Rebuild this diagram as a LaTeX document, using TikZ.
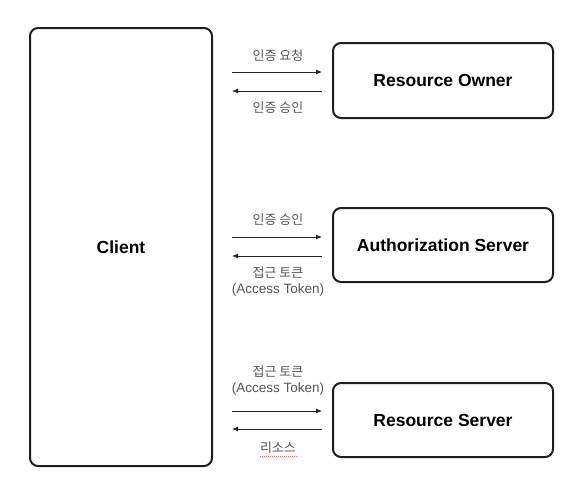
\documentclass[tikz,border=0pt]{standalone}
\usepackage{fontspec}
\setmainfont{Liberation Sans}
\newfontfamily\krfont{Noto Sans CJK KR}
\usetikzlibrary{arrows.meta,positioning}
\definecolor{labgray}{RGB}{85,85,85}
\definecolor{boxline}{RGB}{30,30,30}
\definecolor{spellred}{RGB}{235,110,110}
\tikzset{
  party/.style={draw=boxline, line width=2pt, rounded corners=8pt,
                fill=white, align=center, font=\fontsize{17.5}{21}\selectfont\bfseries},
  flow/.style={-{Latex[length=6pt,width=5pt]}, line width=0.8pt, black!85},
  msg/.style={font=\fontsize{13.5}{16}\selectfont, text=labgray, align=center, inner sep=0pt},
  krmsg/.style={msg, font=\krfont\fontsize{13}{16}\selectfont},
}
\begin{document}
\begin{tikzpicture}[x=1pt,y=-1pt]
  \path[use as bounding box] (0,0) rectangle (580,490);

  \node[party, minimum width=182pt, minimum height=438pt] (client) at (121,247) {Client};

  \node[party, minimum width=220pt, minimum height=75pt] (owner) at (443,80.5) {Resource Owner};
  \node[party, minimum width=220pt, minimum height=74pt] (authsrv) at (443,245) {Authorization Server};
  \node[party, minimum width=220pt, minimum height=74pt] (ressrv) at (443,420) {Resource Server};

  % client <-> resource owner
  \draw[flow, shorten <=19pt, shorten >=10pt]
    ([yshift=8.5pt]client.east |- owner.west) -- ([yshift=8.5pt]owner.west);
  \draw[flow, shorten <=10pt, shorten >=19pt]
    ([yshift=-10.5pt]owner.west) -- ([yshift=-10.5pt]client.east |- owner.west);
  \node[krmsg] (reqlab) at (278,56) {인증 요청};
  \node[krmsg] (grantlab) at (278,108) {인증 승인};

  % client <-> authorization server
  \draw[flow, shorten <=19pt, shorten >=10pt]
    ([yshift=8pt]client.east |- authsrv.west) -- ([yshift=8pt]authsrv.west);
  \draw[flow, shorten <=10pt, shorten >=19pt]
    ([yshift=-11pt]authsrv.west) -- ([yshift=-11pt]client.east |- authsrv.west);
  \node[krmsg] (grantlab2) at (278,220) {인증 승인};
  \node[krmsg] (toklab) at (278,273) {접근 토큰};
  \node[msg] (toklaben) at (278,289.5) {(Access Token)};

  % client <-> resource server
  \draw[flow, shorten <=19pt, shorten >=10pt]
    ([yshift=9pt]client.east |- ressrv.west) -- ([yshift=9pt]ressrv.west);
  \draw[flow, shorten <=10pt, shorten >=19pt]
    ([yshift=-9pt]ressrv.west) -- ([yshift=-9pt]client.east |- ressrv.west);
  \node[krmsg] (toklab2) at (278,372) {접근 토큰};
  \node[msg] (toklaben2) at (278,389) {(Access Token)};
  \node[krmsg] (reslab) at (278,448) {리소스};
  \draw[spellred, line width=1pt, dash pattern=on 1pt off 1pt]
    ([yshift=-2.5pt]reslab.south west) -- ([yshift=-2.5pt]reslab.south east);
\end{tikzpicture}
\end{document}
